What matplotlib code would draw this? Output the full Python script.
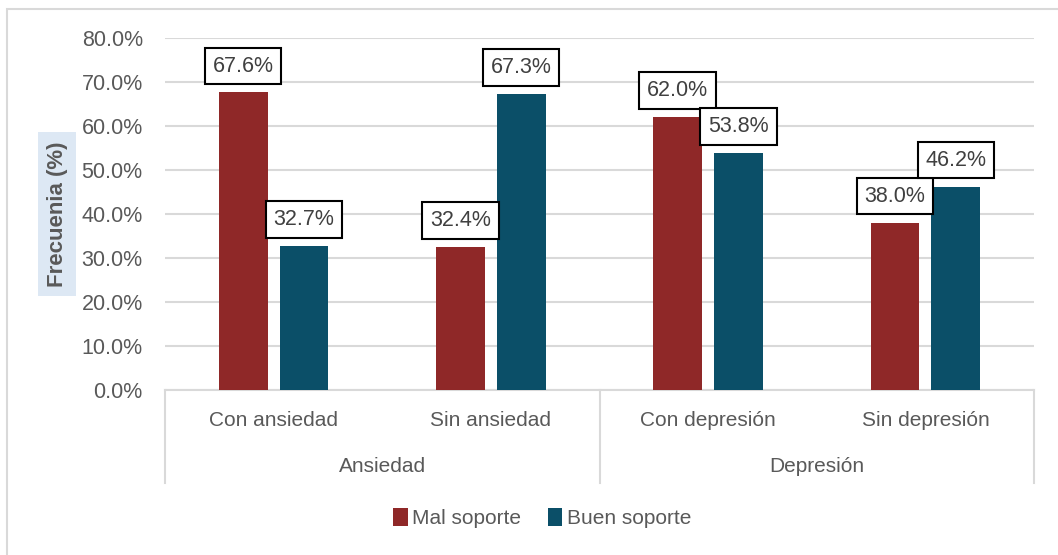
import matplotlib.pyplot as plt
from matplotlib import font_manager
from matplotlib.patches import Rectangle

# datos
categorias = ['Con ansiedad', 'Sin ansiedad', 'Con depresión', 'Sin depresión']
grupos = ['Ansiedad', 'Depresión']
mal_soporte = [67.6, 32.4, 62.0, 38.0]
buen_soporte = [32.7, 67.3, 53.8, 46.2]
yticks = [0, 10, 20, 30, 40, 50, 60, 70, 80]

rojo = '#8f2828'
azul = '#0b4f68'
gris = '#595959'

narrow = ['Liberation Sans Narrow', 'Liberation Sans', 'DejaVu Sans']
plt.rcParams['font.family'] = ['Liberation Sans', 'DejaVu Sans']

fig = plt.figure(figsize=(10.58, 5.55), dpi=100)
ax = fig.add_axes([165 / 1058, 1 - 389.5 / 555, (1034 - 165) / 1058, (389.5 - 38) / 555])

x = list(range(len(categorias)))
ancho = 0.225
desp = 0.14
b1 = ax.bar([i - desp for i in x], mal_soporte, ancho, color=rojo, label='Mal soporte', zorder=3)
b2 = ax.bar([i + desp for i in x], buen_soporte, ancho, color=azul, label='Buen soporte', zorder=3)

# etiquetas de datos con recuadro
for barras, vals in ((b1, mal_soporte), (b2, buen_soporte)):
    for b, v in zip(barras, vals):
        ax.annotate('%.1f%%' % v, (b.get_x() + b.get_width() / 2, v),
                    xytext=(0, 11.5), textcoords='offset points',
                    ha='center', va='bottom', fontsize=15.5, color='#404040', zorder=5,
                    bbox=dict(boxstyle='square,pad=0.36', fc='white', ec='black', lw=1.5))

ax.set_xlim(-0.5, 3.5)
ax.set_ylim(0, 80)
ax.set_yticks(yticks)
ax.set_yticklabels(['%.1f%%' % t for t in yticks], fontsize=15.5, color=gris)
ax.tick_params(axis='y', length=0, pad=16)
ax.tick_params(axis='x', length=0, labelbottom=False)
ax.grid(axis='y', color='#d9d9d9', lw=1.5, zorder=0)
for s in ['top', 'right', 'left']:
    ax.spines[s].set_visible(False)
ax.spines['bottom'].set_color('#d9d9d9')
ax.spines['bottom'].set_linewidth(1.5)

# ejes de categorías jerárquicos
tr = ax.get_xaxis_transform()
for xs in [-0.5, 1.5, 3.5]:
    ax.plot([xs, xs], [0, -0.265], transform=tr, color='#d9d9d9', lw=1.5, clip_on=False)
for i, c in enumerate(categorias):
    ax.text(i, -0.087, c, transform=tr, ha='center', va='center', fontsize=15,
            color=gris, family=narrow)
for i, g in enumerate(grupos):
    ax.text(2 * i + 0.5, -0.218, g, transform=tr, ha='center', va='center', fontsize=15,
            color=gris, family=narrow)

# título del eje y
fig.text(57 / 1058, 1 - 214 / 555, 'Frecuenia (%)', rotation=90, ha='center', va='center',
         fontsize=16, fontweight='bold', color=gris,
         bbox=dict(boxstyle='square,pad=0.4', fc='#dde8f4', ec='none'))

leg = fig.legend(loc='center', bbox_to_anchor=(542 / 1058, 1 - 518 / 555), ncol=2,
                 frameon=False, handlelength=0.7, handleheight=1.0, handletextpad=0.2,
                 columnspacing=1.3, prop=font_manager.FontProperties(family=narrow, size=15))
for t in leg.get_texts():
    t.set_color(gris)

# borde del gráfico
fig.patches.append(Rectangle((7 / 1058, -0.1), 1.2, 1 - 9 / 555 + 0.1, transform=fig.transFigure,
                             fill=False, ec='#d9d9d9', lw=1.5))

fig.savefig('out.png', dpi=100)
